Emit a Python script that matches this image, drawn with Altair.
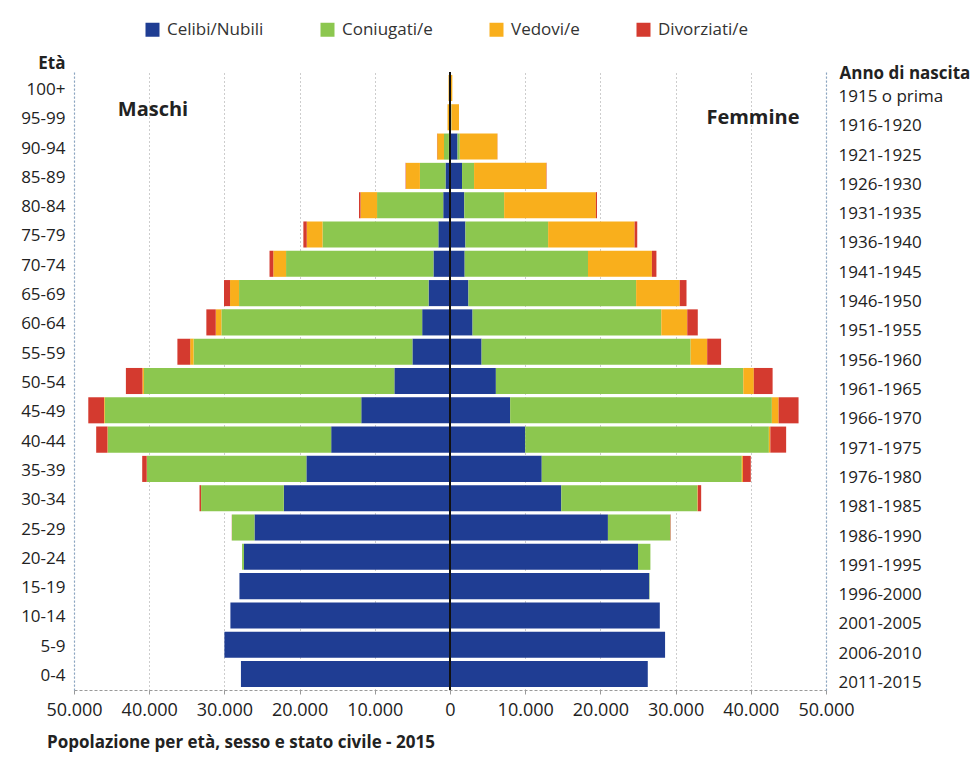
import altair as alt
import pandas as pd

eta = ["100+", "95-99", "90-94", "85-89", "80-84", "75-79", "70-74", "65-69", "60-64", "55-59",
       "50-54", "45-49", "40-44", "35-39", "30-34", "25-29", "20-24", "15-19", "10-14", "5-9", "0-4"]
anno = ["1915 o prima", "1916-1920", "1921-1925", "1926-1930", "1931-1935", "1936-1940", "1941-1945",
        "1946-1950", "1951-1955", "1956-1960", "1961-1965", "1966-1970", "1971-1975", "1976-1980",
        "1981-1985", "1986-1990", "1991-1995", "1996-2000", "2001-2005", "2006-2010", "2011-2015"]
stati = ["Celibi/Nubili", "Coniugati/e", "Vedovi/e", "Divorziati/e"]
colori = ["#1f3d93", "#8cc74f", "#f9af1c", "#d43a2f"]

# Maschi (migliaia)
m_celibi = [0.02, 0.03, 0.15, 0.6, 0.9, 1.55, 2.2, 2.85, 3.7, 5.0, 7.4, 11.8, 15.8, 19.1, 22.1, 26.0, 27.4, 28.0, 29.2, 30.0, 27.8]
m_coniugati = [0.03, 0.1, 0.65, 3.4, 8.8, 15.4, 19.6, 25.2, 26.7, 29.1, 33.3, 34.1, 29.7, 21.2, 11.0, 3.0, 0.25, 0, 0, 0, 0]
m_vedovi = [0.15, 0.2, 0.9, 1.85, 2.2, 2.1, 1.7, 1.2, 0.75, 0.45, 0.2, 0.1, 0.05, 0.03, 0.01, 0, 0, 0, 0, 0, 0]
m_divorziati = [0, 0, 0.03, 0.05, 0.2, 0.45, 0.5, 0.8, 1.25, 1.7, 2.2, 2.1, 1.5, 0.6, 0.2, 0.02, 0, 0, 0, 0, 0]

# Femmine (migliaia)
f_celibi = [0.05, 0.15, 1.0, 1.6, 1.9, 2.05, 1.95, 2.45, 3.0, 4.2, 6.1, 8.0, 10.0, 12.2, 14.8, 21.0, 25.0, 26.5, 27.9, 28.6, 26.3]
f_coniugati = [0.01, 0.05, 0.3, 1.6, 5.3, 11.0, 16.4, 22.3, 25.1, 27.8, 32.9, 34.8, 32.4, 26.6, 18.1, 8.3, 1.65, 0.05, 0, 0, 0]
f_vedovi = [0.25, 1.0, 5.0, 9.6, 12.2, 11.5, 8.5, 5.8, 3.45, 2.2, 1.4, 0.9, 0.2, 0.15, 0.05, 0, 0, 0, 0, 0, 0]
f_divorziati = [0, 0, 0.02, 0.05, 0.15, 0.35, 0.6, 0.9, 1.4, 1.85, 2.5, 2.65, 2.1, 1.05, 0.45, 0.05, 0, 0, 0, 0, 0]

FONT = "Open Sans"

rows = []
for sign, series in [(-1, [m_celibi, m_coniugati, m_vedovi, m_divorziati]),
                     (1, [f_celibi, f_coniugati, f_vedovi, f_divorziati])]:
    for i, e in enumerate(eta):
        cum = 0.0
        for s, vals in zip(stati, series):
            v = vals[i] * 1000
            if v <= 0:
                continue
            rows.append({"eta": e, "stato": s, "start": sign * cum, "end": sign * (cum + v)})
            cum += v
df = pd.DataFrame(rows)

bars = alt.Chart(df).mark_bar().encode(
    x=alt.X("start:Q",
            scale=alt.Scale(domain=[-50000, 50000], nice=False),
            axis=alt.Axis(title=None, values=list(range(-50000, 50001, 10000)),
                          labelExpr="replace(format(abs(datum.value), ','), ',', '.')",
                          labelOverlap=False, labelFlush=False,
                          labelFont=FONT, labelFontSize=18, labelColor="#222", labelPadding=7,
                          grid=True, gridColor="#9a9a9a", gridDash=[1, 3], gridWidth=1,
                          ticks=True, tickSize=4, tickColor="#9a9a9a",
                          domainColor="#9a9a9a", domainDash=[3, 2])),
    x2="end:Q",
    y=alt.Y("eta:N", sort=eta,
            scale=alt.Scale(paddingInner=0.11, paddingOuter=0.1),
            axis=alt.Axis(title="Età", titleAngle=0, titleAlign="right", titleBaseline="bottom",
                          titleX=-9, titleY=0, titleFont=FONT, titleFontSize=17, titleFontWeight="bold",
                          titleColor="#222",
                          labelFont=FONT, labelFontSize=17, labelColor="#222", labelPadding=9,
                          labelOffset=2,
                          ticks=False, domainColor="#8aa6c4", domainDash=[2, 2], domainWidth=1.2)),
    color=alt.Color("stato:N",
                    scale=alt.Scale(domain=stati, range=colori),
                    legend=alt.Legend(orient="none", legendX=70, legendY=-51, direction="horizontal",
                                      title=None, symbolType="square", symbolSize=196,
                                      symbolStrokeWidth=0, symbolOpacity=1,
                                      labelFont=FONT, labelFontSize=17, labelColor="#333",
                                      labelOffset=6, columnPadding=55)),
)

df_anno = pd.DataFrame({"anno": anno})
right_axis = alt.Chart(df_anno).mark_bar(opacity=0).encode(
    y=alt.Y("anno:N", sort=anno,
            scale=alt.Scale(paddingInner=0.11, paddingOuter=0.1),
            axis=alt.Axis(orient="right", title="Anno di nascita", titleAngle=0, titleAlign="left",
                          titleBaseline="middle", titleX=13, titleY=1,
                          titleFont=FONT, titleFontSize=17, titleFontWeight="bold", titleColor="#222",
                          labelFont=FONT, labelFontSize=17, labelColor="#222", labelPadding=12,
                          labelAlign="left", labelOffset=9,
                          ticks=False, domainColor="#8aa6c4", domainDash=[2, 2], domainWidth=1.2)),
    x=alt.value(0),
    x2=alt.value(0),
)

zero = alt.Chart(pd.DataFrame({"v": [0]})).mark_rule(color="#111", strokeWidth=2).encode(x="v:Q")

maschi = alt.Chart(pd.DataFrame({"t": ["Maschi"]})).mark_text(
    font=FONT, fontSize=20, fontWeight="bold", color="#222", align="center", baseline="middle"
).encode(x=alt.value(79), y=alt.value(38), text="t:N")

femmine = alt.Chart(pd.DataFrame({"t": ["Femmine"]})).mark_text(
    font=FONT, fontSize=20, fontWeight="bold", color="#222", align="center", baseline="middle"
).encode(x=alt.value(679), y=alt.value(46), text="t:N")

titolo = alt.Chart(pd.DataFrame({"t": ["Popolazione per età, sesso e stato civile - 2015"]})).mark_text(
    font=FONT, fontSize=17, fontWeight="bold", color="#222", align="left", baseline="middle"
).encode(x=alt.value(-27), y=alt.value(671), text="t:N")

chart = alt.layer(bars, right_axis, zero, maschi, femmine, titolo).resolve_scale(
    y="independent"
).properties(
    width=752, height=618,
    autosize=alt.AutoSizeParams(type="none"),
    padding={"left": 66, "top": 64, "right": 144, "bottom": 64},
).configure_view(stroke=None)

chart.save("out.html", embed_options={"renderer": "svg", "actions": False})
